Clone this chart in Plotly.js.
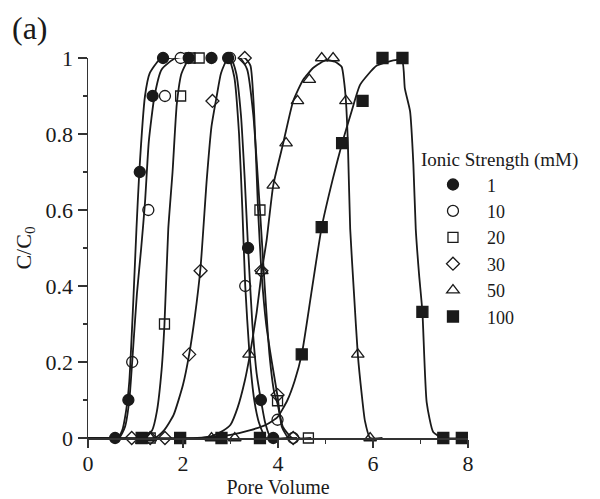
<!DOCTYPE html>
<html>
<head>
<meta charset="utf-8">
<script src="https://cdn.plot.ly/plotly-3.0.1.min.js"></script>
<style>html,body{margin:0;padding:0;background:#fff;}#chart{width:600px;height:499px;}</style>
</head>
<body>
<div id="chart"></div>
<script>
// ---- measured data points (pore volume, C/C0) ----
const seriesNames = ["1", "10", "20", "30", "50", "100"];

const pv_1 = [0.57, 0.85, 1.09, 1.36, 1.58, 2.12, 2.6, 2.95, 3.37, 3.64, 3.9];
const cc_1 = [0, 0.1, 0.7, 0.9, 1, 1, 1, 1, 0.5, 0.1, 0];

const pv_10 = [0.93, 1.27, 1.62, 1.95, 2.99, 3.31, 3.99, 4.32];
const cc_10 = [0.2, 0.6, 0.9, 1, 1, 0.4, 0.048, 0];

const pv_20 = [1.31, 1.61, 1.95, 2.15, 2.34, 3.62, 3.99, 4.64];
const cc_20 = [0, 0.3, 0.9, 1, 1, 0.6, 0.098, 0];

const pv_30 = [0.92, 1.31, 1.62, 2.13, 2.37, 2.62, 3.3, 3.65, 3.99, 4.32];
const cc_30 = [0, 0, 0, 0.22, 0.44, 0.887, 1, 0.44, 0.113, 0];

const pv_50 = [1.31, 2.6, 3.09, 3.39, 3.66, 3.9, 4.17, 4.41, 4.66, 4.92, 5.16, 5.43, 5.68, 5.94];
const cc_50 = [0, 0, 0, 0.22, 0.44, 0.665, 0.776, 0.887, 0.943, 1, 1, 0.887, 0.22, 0];

const pv_100 = [1.13, 1.94, 2.81, 3.62, 4.5, 4.92, 5.35, 5.78, 6.2, 6.62, 7.04, 7.48, 7.87];
const cc_100 = [0, 0, 0, 0, 0.22, 0.555, 0.776, 0.887, 1, 1, 0.332, 0, 0];

// ---- fitted curves ----
const fitx_1 = [0, 0.62, 0.72, 0.8, 0.87, 0.95, 1.02, 1.08, 1.2, 1.3, 1.5, 1.7, 3.0, 3.12, 3.22, 3.3, 3.37, 3.46, 3.55, 3.64, 3.73, 3.85, 4.3];
const fity_1 = [0, 0, 0.02, 0.07, 0.15, 0.35, 0.55, 0.7, 0.9, 0.96, 0.995, 1, 1, 0.96, 0.85, 0.68, 0.5, 0.3, 0.17, 0.1, 0.04, 0, 0];

const fitx_10 = [0, 0.65, 0.78, 0.87, 0.93, 1.03, 1.12, 1.2, 1.28, 1.4, 1.55, 1.85, 2.95, 3.08, 3.18, 3.25, 3.31, 3.4, 3.5, 3.6, 3.75, 4.3];
const fity_10 = [0, 0, 0.03, 0.1, 0.2, 0.38, 0.5, 0.62, 0.78, 0.9, 0.97, 1, 1, 0.95, 0.8, 0.6, 0.4, 0.22, 0.1, 0.04, 0, 0];

const fitx_20 = [0, 1.2, 1.35, 1.45, 1.55, 1.61, 1.69, 1.78, 1.87, 1.97, 2.15, 3.2, 3.35, 3.48, 3.62, 3.72, 3.82, 3.92, 3.99, 4.1, 4.3, 4.7];
const fity_20 = [0, 0, 0.02, 0.07, 0.18, 0.3, 0.55, 0.7, 0.88, 0.96, 1, 1, 0.97, 0.85, 0.6, 0.4, 0.22, 0.12, 0.09, 0.03, 0, 0];

const fitx_30 = [0, 1.4, 1.6, 1.8, 2.0, 2.13, 2.25, 2.37, 2.5, 2.6, 2.71, 2.8, 2.95, 3.3, 3.42, 3.5, 3.58, 3.65, 3.75, 3.87, 3.99, 4.08, 4.22, 4.4];
const fity_30 = [0, 0, 0.02, 0.06, 0.14, 0.22, 0.32, 0.45, 0.68, 0.82, 0.9, 0.96, 1, 1, 0.98, 0.85, 0.6, 0.44, 0.3, 0.2, 0.11, 0.03, 0, 0];

const fitx_50 = [0, 2.3, 2.6, 2.85, 3.0, 3.15, 3.3, 3.41, 3.55, 3.66, 3.76, 3.9, 4.11, 4.32, 4.53, 4.75, 5.02, 5.2, 5.34, 5.39, 5.43, 5.47, 5.52, 5.6, 5.68, 5.76, 5.83, 5.94, 6.2];
const fity_50 = [0, 0, 0.005, 0.02, 0.035, 0.08, 0.15, 0.22, 0.33, 0.44, 0.52, 0.665, 0.776, 0.887, 0.943, 0.975, 0.995, 0.99, 0.977, 0.94, 0.887, 0.78, 0.55, 0.38, 0.22, 0.118, 0.045, 0, 0];

const fitx_100 = [0, 2.4, 3.0, 3.4, 3.75, 3.99, 4.2, 4.35, 4.5, 4.7, 4.92, 5.15, 5.35, 5.55, 5.73, 6.08, 6.5, 6.62, 6.67, 6.78, 6.85, 6.9, 6.97, 7.04, 7.13, 7.27, 7.48, 8];
const fity_100 = [0, 0, 0.008, 0.02, 0.035, 0.055, 0.1, 0.15, 0.22, 0.38, 0.555, 0.68, 0.776, 0.86, 0.93, 0.98, 0.995, 0.99, 0.92, 0.86, 0.72, 0.55, 0.43, 0.332, 0.094, 0.015, 0, 0];

const xTicks = [0, 2, 4, 6, 8];
const yTicks = [0, 0.2, 0.4, 0.6, 0.8, 1];

const FONT = '"Liberation Serif", "Times New Roman", serif';
const INK = '#1a1a1a';

const pts = [
  {x: pv_1, y: cc_1, sym: 'circle'},
  {x: pv_10, y: cc_10, sym: 'circle-open'},
  {x: pv_20, y: cc_20, sym: 'square-open'},
  {x: pv_30, y: cc_30, sym: 'diamond-open'},
  {x: pv_50, y: cc_50, sym: 'triangle-up-open'},
  {x: pv_100, y: cc_100, sym: 'square'}
];
const fits = [[fitx_1, fity_1], [fitx_10, fity_10], [fitx_20, fity_20], [fitx_30, fity_30], [fitx_50, fity_50], [fitx_100, fity_100]];
const sizes = [11, 11, 10, 10, 11, 11];

const traces = [];
fits.forEach(function (f) {
  traces.push({x: f[0], y: f[1], mode: 'lines', line: {color: INK, width: 1.8, shape: 'spline', smoothing: 0.5},
    showlegend: false, hoverinfo: 'skip', cliponaxis: false});
});
pts.forEach(function (p, i) {
  traces.push({x: p.x, y: p.y, mode: 'markers', name: seriesNames[i], cliponaxis: false,
    marker: {symbol: p.sym, size: sizes[i], color: INK, line: {color: INK, width: 1.3}}});
});

const layout = {
  width: 600, height: 499,
  margin: {l: 88, r: 132, t: 58, b: 61},
  paper_bgcolor: '#fff', plot_bgcolor: '#fff',
  font: {family: FONT, size: 20, color: INK},
  showlegend: true,
  legend: {
    x: 0.871, y: 0.78, xanchor: 'left', yanchor: 'top',
    font: {family: FONT, size: 18, color: INK},
    title: {text: 'Ionic Strength (mM)', font: {family: FONT, size: 19, color: INK}},
    itemwidth: 58, bgcolor: 'rgba(0,0,0,0)', borderwidth: 0
  },
  xaxis: {
    range: [0, 8], tickvals: xTicks, ticktext: xTicks.map(String),
    showgrid: false, zeroline: false, showline: true, linecolor: '#333', linewidth: 1.5,
    ticks: 'outside', ticklen: 8, tickwidth: 1.3, tickcolor: '#333', ticklabelstandoff: -3,
    minor: {dtick: 1, ticks: 'outside', ticklen: 4, tickwidth: 1.2, tickcolor: '#333'},
    tickfont: {family: FONT, size: 22, color: INK},
    title: {text: 'Pore Volume', font: {family: FONT, size: 20, color: INK}, standoff: 4}
  },
  yaxis: {
    range: [0, 1], tickvals: yTicks, ticktext: yTicks.map(String),
    showgrid: false, zeroline: false, showline: true, linecolor: '#333', linewidth: 1.5,
    ticks: 'outside', ticklen: 9, tickwidth: 1.3, tickcolor: '#333',
    minor: {dtick: 0.1, ticks: 'outside', ticklen: 4, tickwidth: 1.2, tickcolor: '#333'},
    tickfont: {family: FONT, size: 22, color: INK},
    title: {text: 'C/C<sub>0</sub>', font: {family: FONT, size: 22, color: INK}, standoff: 8}
  },
  annotations: [{
    text: '(a)', xref: 'paper', yref: 'paper', x: -0.205, y: 1.078, xanchor: 'left', yanchor: 'middle',
    showarrow: false, font: {family: FONT, size: 32, color: INK}
  }]
};

Plotly.newPlot('chart', traces, layout, {displayModeBar: false, staticPlot: true});
</script>
</body>
</html>
